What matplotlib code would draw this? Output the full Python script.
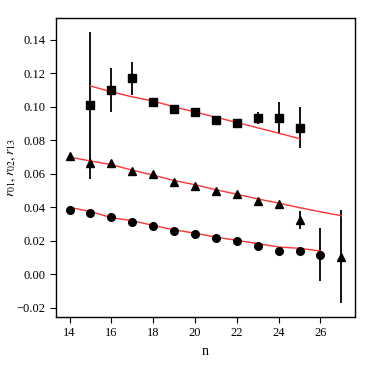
import matplotlib
matplotlib.use("Agg")
import matplotlib.pyplot as plt

plt.rcParams['font.family'] = ['Liberation Serif', 'DejaVu Serif']
plt.rcParams['mathtext.fontset'] = 'stix'

# squares
n_sq = [15, 16, 17, 18, 19, 20, 21, 22, 23, 24, 25]
r_sq = [0.101, 0.110, 0.117, 0.103, 0.099, 0.097, 0.092, 0.0906, 0.0934, 0.0936, 0.0876]
e_sq = [0.044, 0.013, 0.010, 0.002, 0.001, 0.001, 0.0008, 0.0008, 0.0035, 0.0096, 0.0122]
fit_sq = [0.1125, 0.1090, 0.1060, 0.1035, 0.1000, 0.0970, 0.0938, 0.0907, 0.0875, 0.0843, 0.0810]

# triangles
n_tr = [14, 15, 16, 17, 18, 19, 20, 21, 22, 23, 24, 25, 27]
r_tr = [0.0709, 0.0666, 0.0664, 0.0618, 0.0602, 0.0554, 0.0530, 0.0500, 0.0480, 0.0435, 0.0420, 0.0325, 0.0106]
e_tr = [0.0008, 0.0008, 0.0008, 0.0008, 0.0008, 0.0008, 0.0008, 0.0008, 0.0008, 0.0008, 0.0008, 0.0055, 0.0280]
n_trfit = [14, 15, 16, 17, 18, 19, 20, 21, 22, 23, 24, 25, 26, 27]
fit_tr = [0.0700, 0.0677, 0.0655, 0.0622, 0.0592, 0.0560, 0.0535, 0.0505, 0.0478, 0.0450, 0.0425, 0.0398, 0.0373, 0.0350]

# circles
n_ci = [14, 15, 16, 17, 18, 19, 20, 21, 22, 23, 24, 25, 26]
r_ci = [0.0382, 0.0364, 0.0342, 0.0310, 0.0286, 0.0260, 0.0242, 0.0214, 0.0198, 0.0170, 0.0140, 0.0140, 0.0118]
e_ci = [0.0005, 0.0005, 0.0005, 0.0005, 0.0005, 0.0005, 0.0005, 0.0005, 0.0005, 0.0005, 0.0005, 0.0020, 0.0157]
fit_ci = [0.0400, 0.0375, 0.0338, 0.0320, 0.0292, 0.0265, 0.0246, 0.0222, 0.0203, 0.0183, 0.0163, 0.0155, 0.0139]

fig = plt.figure(figsize=(3.74, 3.74), dpi=100)
ax = fig.add_axes([56/374, 57/374, 299/374, 299/374])

ekw = dict(color='black', ecolor='black', elinewidth=1.3, capsize=0, linestyle='none')
ax.errorbar(n_sq, r_sq, yerr=e_sq, marker='s', markersize=6, **ekw)
ax.errorbar(n_tr, r_tr, yerr=e_tr, marker='^', markersize=6, **ekw)
ax.errorbar(n_ci, r_ci, yerr=e_ci, marker='o', markersize=5.5, **ekw)

ax.plot(n_sq, fit_sq, color='#ff3333', lw=1.0)
ax.plot(n_trfit, fit_tr, color='#ff3333', lw=1.0)
ax.plot(n_ci, fit_ci, color='#ff3333', lw=1.0)

ax.set_xticks([14, 16, 18, 20, 22, 24, 26])
ax.set_yticks([-0.02, 0.00, 0.02, 0.04, 0.06, 0.08, 0.10, 0.12, 0.14])
ax.set_yticklabels(['\u22120.02', '0.00', '0.02', '0.04', '0.06', '0.08', '0.10', '0.12', '0.14'])
ax.tick_params(labelsize=9, direction='out', length=4, width=0.8)
ax.set_xlabel('n', fontsize=10)
ax.set_ylabel(r'$r_{01}, r_{02}, r_{13}$', fontsize=10)
ax.yaxis.set_label_coords(-0.128, 0.5)
for s in ax.spines.values():
    s.set_linewidth(1.0)

fig.savefig('out.png', dpi=100)
